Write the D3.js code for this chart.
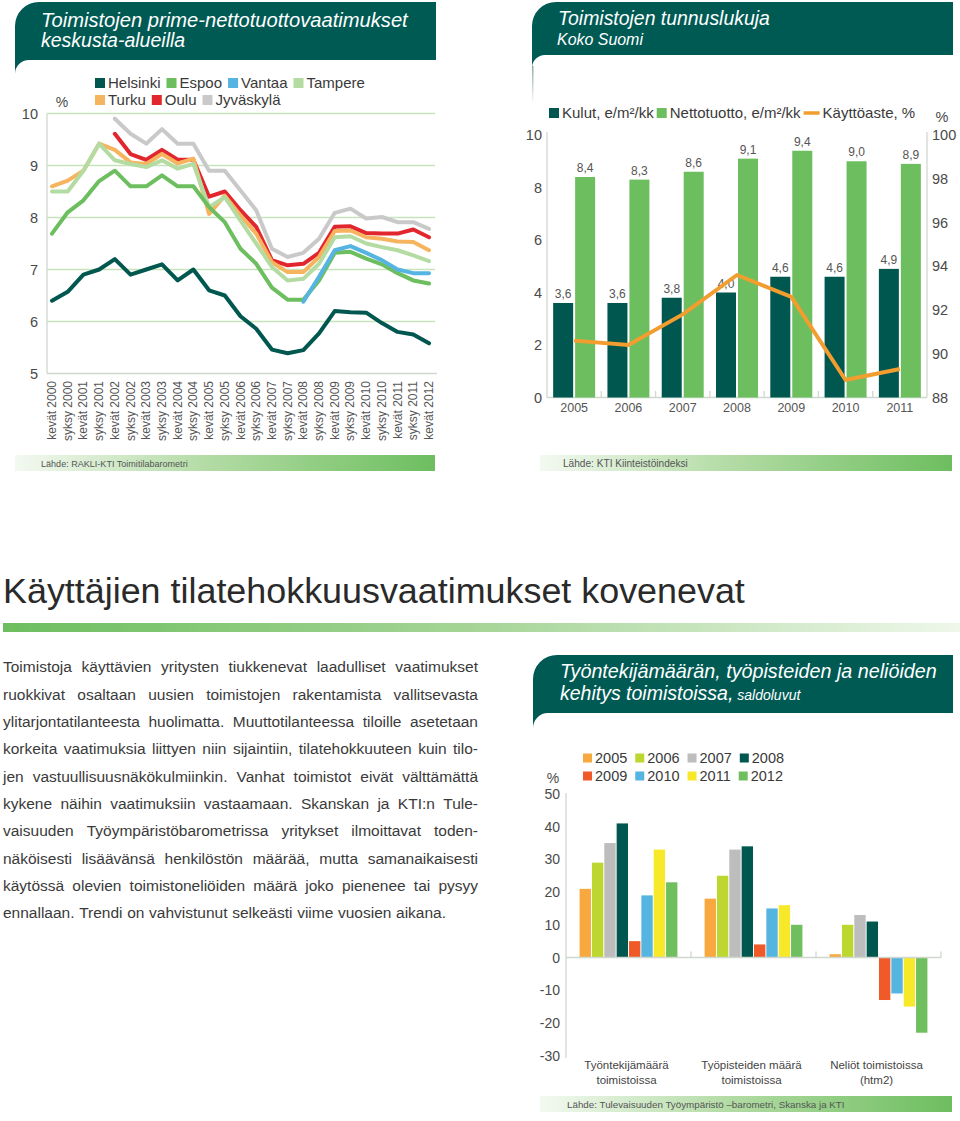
<!DOCTYPE html>
<html><head><meta charset="utf-8">
<script src="https://cdn.jsdelivr.net/npm/d3@7"></script>
<style>body{margin:0;background:#fff} svg{display:block} text{font-family:"Liberation Sans",Arial,Helvetica,sans-serif}</style>
</head><body>
<svg id="c" width="960" height="1121"></svg>
<script>
// ---------- DATA ----------
const periods = ["kevät 2000","syksy 2000","kevät 2001","syksy 2001","kevät 2002","syksy 2002","kevät 2003","syksy 2003","kevät 2004","syksy 2004","kevät 2005","syksy 2005","kevät 2006","syksy 2006","kevät 2007","syksy 2007","kevät 2008","syksy 2008","kevät 2009","syksy 2009","kevät 2010","syksy 2010","kevät 2011","syksy 2011","kevät 2012"];
const cities = ["Helsinki","Espoo","Vantaa","Tampere","Turku","Oulu","Jyväskylä"];
const cityColors = ["#00574f","#6dbe5f","#55b4e2","#b4dca2","#f6b45e","#e2262e","#c9c9c9"];
const helsinki = [6.40,6.57,6.90,7.00,7.20,6.90,7.00,7.10,6.79,7.00,6.60,6.50,6.10,5.86,5.46,5.39,5.45,5.77,6.20,6.18,6.17,5.97,5.80,5.75,5.58];
const espoo    = [7.69,8.10,8.33,8.70,8.90,8.60,8.60,8.81,8.60,8.60,8.20,7.91,7.40,7.11,6.65,6.42,6.42,6.79,7.32,7.34,7.21,7.10,6.93,6.79,6.73];
const vantaa   = [null,null,null,null,null,null,null,null,null,null,null,null,null,null,null,null,6.38,6.86,7.37,7.45,7.32,7.18,7.00,6.93,6.93];
const tampere  = [8.50,8.50,8.90,9.42,9.10,9.03,8.97,9.10,8.94,9.03,8.20,8.39,7.94,7.50,7.05,6.79,6.82,7.11,7.62,7.64,7.50,7.43,7.37,7.27,7.16];
const turku    = [8.60,8.71,8.90,9.42,9.30,9.06,9.03,9.22,9.04,9.13,8.07,8.42,8.04,7.69,7.14,6.95,6.95,7.24,7.74,7.75,7.62,7.59,7.54,7.53,7.37];
const oulu     = [null,null,null,null,9.61,9.22,9.11,9.30,9.11,9.11,8.40,8.50,8.14,7.82,7.18,7.08,7.11,7.32,7.82,7.83,7.70,7.69,7.69,7.77,7.62];
const jyvaskyla= [null,null,null,null,9.90,9.61,9.42,9.70,9.42,9.42,8.90,8.90,8.52,8.14,7.40,7.24,7.32,7.59,8.09,8.17,7.98,8.01,7.91,7.91,7.78];
const yTicksL = [5,6,7,8,9,10];

const years = ["2005","2006","2007","2008","2009","2010","2011"];
const kulut = [3.6,3.6,3.8,4.0,4.6,4.6,4.9];
const netto = [8.4,8.3,8.6,9.1,9.4,9.0,8.9];
const kayttoaste = [90.6,90.4,91.8,93.6,92.6,88.8,89.3];
const yTicksR1 = [0,2,4,6,8,10];
const yTicksR2 = [88,90,92,94,96,98,100];

const saldoCats = [["Työntekijämäärä","toimistoissa"],["Työpisteiden määrä","toimistoissa"],["Neliöt toimistoissa","(htm2)"]];
const saldoYears = ["2005","2006","2007","2008","2009","2010","2011","2012"];
const saldoColors = ["#f7a83f","#bed630","#bdbdbd","#00574f","#ef5a28","#56b4e0","#f8e82a","#70bf5f"];
const tyontekijat = [21,29,35,41,5,19,33,23];
const tyopisteet  = [18,25,33,34,4,15,16,10];
const neliot      = [1,10,13,11,-13,-11,-15,-23];
const yTicksB = [-30,-20,-10,0,10,20,30,40,50];

const bodyLines = [
"Toimistoja käyttävien yritysten tiukkenevat laadulliset vaatimukset",
"ruokkivat osaltaan uusien toimistojen rakentamista vallitsevasta",
"ylitarjontatilanteesta huolimatta. Muuttotilanteessa tiloille asetetaan",
"korkeita vaatimuksia liittyen niin sijaintiin, tilatehokkuuteen kuin tilo-",
"jen vastuullisuusnäkökulmiinkin. Vanhat toimistot eivät välttämättä",
"kykene näihin vaatimuksiin vastaamaan. Skanskan ja KTI:n Tule-",
"vaisuuden Työympäristöbarometrissa yritykset ilmoittavat toden-",
"näköisesti lisäävänsä henkilöstön määrää, mutta samanaikaisesti",
"käytössä olevien toimistoneliöiden määrä joko pienenee tai pysyy",
"ennallaan. Trendi on vahvistunut selkeästi viime vuosien aikana."];

// ---------- HELPERS ----------
const TEAL = "#005a54", GRID = "#c7e3bc", AXIS = "#cfd8cf", TXT = "#4a4a4a";
const svg = d3.select("#c");
const defs = svg.append("defs");
function hGrad(id, stops){
  const g = defs.append("linearGradient").attr("id",id).attr("x1","0%").attr("x2","100%").attr("y1","0%").attr("y2","0%");
  stops.forEach(s=>g.append("stop").attr("offset",s[0]).attr("stop-color",s[1]));
}
hGrad("srcGrad",[["0%","#f3f9f1"],["45%","#b4dca6"],["100%","#6dbe5f"]]);
hGrad("ruleGrad",[["0%","#6dbe5f"],["50%","#a6d597"],["100%","#eef7ea"]]);
const vg = defs.append("linearGradient").attr("id","tailGrad").attr("x1","0").attr("x2","0").attr("y1","0").attr("y2","1");
vg.append("stop").attr("offset","0%").attr("stop-color","#8fa9a5");
vg.append("stop").attr("offset","100%").attr("stop-color","#ffffff");

function fit(sel, w){ // scale font size so text width matches w
  const fs = parseFloat(sel.attr("font-size"));
  const l = sel.node().getComputedTextLength();
  sel.attr("font-size", fs*w/l);
  return sel;
}
function header(x0,y0,x1,y1,r,t){
  svg.append("path").attr("fill",TEAL)
    .attr("d",`M${x0},${y1+t} L${x0},${y0+r} A${r},${r} 0 0 1 ${x0+r},${y0} L${x1},${y0} L${x1},${y1} L${x0+t},${y1} A${t},${t} 0 0 0 ${x0},${y1+t} Z`);
}
function source(x0,x1,y,txt,tx,tw){
  svg.append("rect").attr("x",x0).attr("y",y).attr("width",x1-x0).attr("height",16).attr("fill","url(#srcGrad)");
  const t = svg.append("text").attr("x",tx).attr("y",y+11.5).attr("font-size",10).attr("fill","#555").text(txt);
  fit(t,tw);
}
function legend(items, x, y, sq, fs, gap){
  let cx = x;
  items.forEach(it=>{
    if(it.line){
      svg.append("line").attr("x1",cx).attr("x2",cx+16).attr("y1",y).attr("y2",y).attr("stroke",it.color).attr("stroke-width",3.5);
      cx += 19;
    } else {
      svg.append("rect").attr("x",cx).attr("y",y-sq/2).attr("width",sq).attr("height",sq).attr("fill",it.color);
      cx += sq+3;
    }
    const t = svg.append("text").attr("x",cx).attr("y",y+fs*0.36).attr("font-size",fs).attr("fill","#3a3a3a").text(it.label);
    cx += t.node().getComputedTextLength()+gap;
  });
}
const comma = v => d3.format(".1f")(v).replace(".",",");

// ---------- LEFT CHART ----------
header(15,2,436,60,24,14);
fit(svg.append("text").attr("x",41).attr("y",27).attr("font-size",19.5).attr("font-style","italic").attr("fill","#fff").text("Toimistojen prime-nettotuottovaatimukset"),367);
svg.append("text").attr("x",41).attr("y",47).attr("font-size",19.5).attr("font-style","italic").attr("fill","#fff").text("keskusta-alueilla");

legend(cities.slice(0,4).map((c,i)=>({label:c,color:cityColors[i]})),95,83,10,15,6);
legend(cities.slice(4).map((c,i)=>({label:c,color:cityColors[i+4]})),95,100,10,15,6);
svg.append("text").attr("x",62).attr("y",107).attr("font-size",14).attr("text-anchor","middle").attr("fill",TXT).text("%");

const xL = d3.scalePoint().domain(periods).range([52,429]);
const yL = d3.scaleLinear().domain([5,10]).range([373.5,113.5]);
const gL = svg.append("g");
gL.selectAll("line.grid").data(yTicksL.filter(d=>d>5)).join("line")
  .attr("x1",47).attr("x2",435).attr("y1",d=>yL(d)).attr("y2",d=>yL(d)).attr("stroke",GRID).attr("stroke-width",1.3);
gL.append("line").attr("x1",47).attr("x2",437).attr("y1",yL(5)).attr("y2",yL(5)).attr("stroke",AXIS).attr("stroke-width",1.3);
gL.append("line").attr("x1",47).attr("x2",47).attr("y1",yL(10)).attr("y2",yL(5)).attr("stroke",AXIS).attr("stroke-width",1.3);
gL.selectAll("text.yt").data(yTicksL).join("text").attr("x",38).attr("y",d=>yL(d)+5).attr("text-anchor","end")
  .attr("font-size",14.5).attr("fill",TXT).text(d=>d);
gL.selectAll("text.xt").data(periods).join("text")
  .attr("transform",d=>`translate(${xL(d)+4},381) rotate(-90)`).attr("text-anchor","end")
  .attr("font-size",12).attr("fill","#555").text(d=>d);
const lineGen = d3.line().defined(d=>d.v!=null).x(d=>xL(d.p)).y(d=>yL(d.v));
const drawOrder = [[jyvaskyla,6],[oulu,5],[turku,4],[tampere,3],[espoo,1],[vantaa,2],[helsinki,0]];
drawOrder.forEach(([arr,ci])=>{
  gL.append("path").datum(arr.map((v,i)=>({p:periods[i],v})))
    .attr("d",lineGen).attr("fill","none").attr("stroke",cityColors[ci]).attr("stroke-width",4)
    .attr("stroke-linejoin","round").attr("stroke-linecap","round");
});
source(15,435,455,"Lähde: RAKLI-KTI Toimitilabarometri",41,147);

// ---------- RIGHT CHART ----------
header(532,2,953,55,24,13);
svg.append("rect").attr("x",532).attr("y",66).attr("width",1.5).attr("height",38).attr("fill","url(#tailGrad)");
fit(svg.append("text").attr("x",558).attr("y",25).attr("font-size",19.5).attr("font-style","italic").attr("fill","#fff").text("Toimistojen tunnuslukuja"),212);
fit(svg.append("text").attr("x",557).attr("y",45).attr("font-size",16).attr("font-style","italic").attr("fill","#fff").text("Koko Suomi"),86);

legend([{label:"Kulut, e/m²/kk",color:"#00574f"},{label:"Nettotuotto, e/m²/kk",color:"#6dbe5f"},{label:"Käyttöaste, %",color:"#f29d2f",line:true}],549,113,10,15,3);
svg.append("text").attr("x",942).attr("y",122).attr("font-size",14.5).attr("text-anchor","middle").attr("fill",TXT).text("%");

const xR = d3.scaleBand().domain(years).range([547,927]);
const xRs = d3.scaleBand().domain(["k","n"]).range([0,xR.bandwidth()]).paddingInner(0.09).paddingOuter(0.28);
const yR = d3.scaleLinear().domain([0,10]).range([397.5,135]);
const yR2 = d3.scaleLinear().domain([88,100]).range([397.5,135]);
const gR = svg.append("g");
gR.append("line").attr("x1",547).attr("x2",547).attr("y1",132).attr("y2",397.5).attr("stroke",AXIS).attr("stroke-width",1.3);
gR.append("line").attr("x1",927).attr("x2",927).attr("y1",132).attr("y2",397.5).attr("stroke",AXIS).attr("stroke-width",1.3);
gR.append("line").attr("x1",547).attr("x2",927).attr("y1",397.5).attr("y2",397.5).attr("stroke",AXIS).attr("stroke-width",1.3);
gR.selectAll("line.tk").data(years.slice(1)).join("line").attr("x1",d=>xR(d)).attr("x2",d=>xR(d)).attr("y1",391).attr("y2",397.5).attr("stroke",AXIS).attr("stroke-width",1.3);
gR.selectAll("text.y1").data(yTicksR1).join("text").attr("x",542).attr("y",d=>yR(d)+5).attr("text-anchor","end").attr("font-size",14.5).attr("fill",TXT).text(d=>d);
gR.selectAll("text.y2").data(yTicksR2).join("text").attr("x",932).attr("y",d=>yR2(d)+5).attr("font-size",14.5).attr("fill",TXT).text(d=>d);
gR.selectAll("text.xt").data(years).join("text").attr("x",d=>xR(d)+xR.bandwidth()/2).attr("y",412).attr("text-anchor","middle").attr("font-size",12.5).attr("fill","#555").text(d=>d);
gR.selectAll("rect.k").data(kulut).join("rect").attr("x",(d,i)=>xR(years[i])+xRs("k")).attr("width",xRs.bandwidth())
  .attr("y",d=>yR(d)).attr("height",d=>yR(0)-yR(d)).attr("fill","#00574f");
gR.selectAll("rect.n").data(netto).join("rect").attr("x",(d,i)=>xR(years[i])+xRs("n")).attr("width",xRs.bandwidth())
  .attr("y",d=>yR(d)).attr("height",d=>yR(0)-yR(d)).attr("fill","#6dbe5f");
gR.selectAll("text.kl").data(kulut).join("text").attr("x",(d,i)=>xR(years[i])+xRs("k")+xRs.bandwidth()/2).attr("y",d=>yR(d)-5)
  .attr("text-anchor","middle").attr("font-size",12).attr("fill","#555").text(comma);
gR.selectAll("text.nl").data(netto).join("text").attr("x",(d,i)=>xR(years[i])+xRs("n")+xRs.bandwidth()/2).attr("y",d=>yR(d)-5)
  .attr("text-anchor","middle").attr("font-size",12).attr("fill","#555").text(comma);
gR.append("path").datum(kayttoaste).attr("fill","none").attr("stroke","#f29d2f").attr("stroke-width",4).attr("stroke-linejoin","round")
  .attr("d",d3.line().x((d,i)=>xR(years[i])+xR.bandwidth()/2).y(d=>yR2(d)));
source(540,952,455,"Lähde: KTI Kiinteistöindeksi",563,125);

// ---------- HEADLINE + BODY ----------
const hl = svg.append("text").attr("x",3).attr("y",603).attr("font-size",35).attr("font-family","'Lato Light', Lato, 'Liberation Sans', sans-serif")
  .attr("font-weight",300).attr("fill","#2a2a2a").text("Käyttäjien tilatehokkuusvaatimukset kovenevat");
fit(hl,742);
svg.append("rect").attr("x",3).attr("y",623).attr("width",957).attr("height",9).attr("fill","url(#ruleGrad)");

const gT = svg.append("g").attr("fill","#3a3a3a");
const bfs = 15.5, bx0 = 3, bx1 = 478, by0 = 672.3, blh = 27.33;
const meas = gT.append("text").attr("font-size",bfs);
bodyLines.forEach((line,i)=>{
  const words = line.split(" ");
  const ws = words.map(w=>{ meas.text(w); return meas.node().getComputedTextLength(); });
  const last = i===bodyLines.length-1;
  const sp = last ? bfs*0.3 : (bx1-bx0-d3.sum(ws))/(words.length-1);
  let x = bx0;
  words.forEach((w,j)=>{ gT.append("text").attr("x",x).attr("y",by0+i*blh).attr("font-size",bfs).text(w); x += ws[j]+sp; });
});
meas.remove();

// ---------- BOTTOM RIGHT CHART ----------
header(533,655,953,713,24,15);
fit(svg.append("text").attr("x",560).attr("y",678).attr("font-size",19.5).attr("font-style","italic").attr("fill","#fff").text("Työntekijämäärän, työpisteiden ja neliöiden"),377);
const t2 = svg.append("text").attr("x",560).attr("y",700).attr("font-style","italic").attr("fill","#fff");
t2.append("tspan").attr("font-size",19.5).text("kehitys toimistoissa,");
t2.append("tspan").attr("font-size",14).text(" saldoluvut");

legend(saldoYears.slice(0,4).map((y,i)=>({label:y,color:saldoColors[i]})),583,758,9,14.5,8);
legend(saldoYears.slice(4).map((y,i)=>({label:y,color:saldoColors[i+4]})),583,776,9,14.5,8);
svg.append("text").attr("x",553).attr("y",783).attr("font-size",14).attr("text-anchor","middle").attr("fill",TXT).text("%");

const xB = d3.scaleBand().domain(d3.range(3)).range([566,941]);
const xBs = d3.scaleBand().domain(saldoYears).range([0,xB.bandwidth()]).paddingInner(0.08).paddingOuter(1.1);
const yB = d3.scaleLinear().domain([-30,50]).range([1055.6,794]);
const gB = svg.append("g");
gB.append("line").attr("x1",566).attr("x2",566).attr("y1",793).attr("y2",1058).attr("stroke",AXIS).attr("stroke-width",1.3);
gB.selectAll("text.yt").data(yTicksB).join("text").attr("x",560).attr("y",d=>yB(d)+5).attr("text-anchor","end").attr("font-size",14).attr("fill",TXT).text(d=>d);
const saldoSeries = [tyontekijat,tyopisteet,neliot];
saldoSeries.forEach((arr,ci)=>{
  gB.selectAll(null).data(arr).join("rect")
    .attr("x",(d,i)=>xB(ci)+xBs(saldoYears[i])).attr("width",xBs.bandwidth())
    .attr("y",d=>yB(Math.max(0,d))).attr("height",d=>Math.abs(yB(d)-yB(0)))
    .attr("fill",(d,i)=>saldoColors[i]);
});
gB.append("line").attr("x1",566).attr("x2",941).attr("y1",yB(0)).attr("y2",yB(0)).attr("stroke",AXIS).attr("stroke-width",1.3);
gB.selectAll("line.tk").data([1,2]).join("line").attr("x1",d=>xB(d)).attr("x2",d=>xB(d)).attr("y1",yB(0)-6).attr("y2",yB(0)).attr("stroke",AXIS).attr("stroke-width",1.3);
gB.append("line").attr("x1",941).attr("x2",941).attr("y1",yB(0)-6).attr("y2",yB(0)).attr("stroke",AXIS).attr("stroke-width",1.3);
saldoCats.forEach((lines,ci)=>{
  lines.forEach((l,k)=>{
    gB.append("text").attr("x",xB(ci)+xB.bandwidth()/2-2).attr("y",1069+k*14.5).attr("text-anchor","middle").attr("font-size",11.5).attr("fill","#444").text(l);
  });
});
source(540,952,1096,"Lähde: Tulevaisuuden Työympäristö –barometri, Skanska ja KTI",567,278);
</script>
</body></html>
